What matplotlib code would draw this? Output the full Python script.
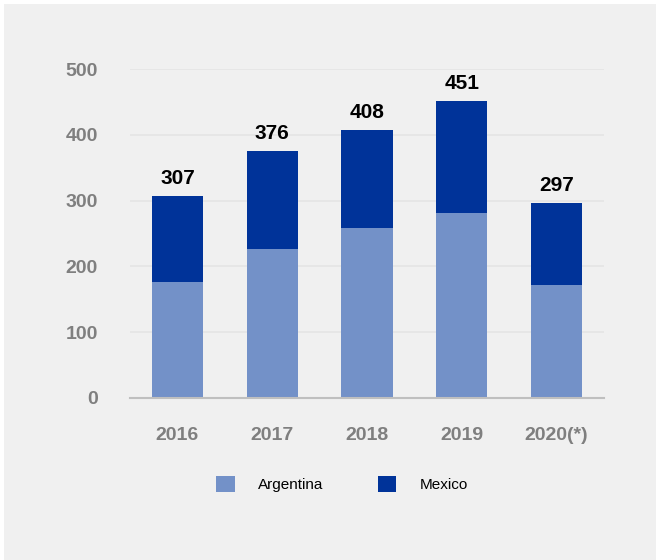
import matplotlib.pyplot as plt
from matplotlib.patches import Rectangle
from matplotlib import font_manager

# yearly figures, in thousands
years = ["2016", "2017", "2018", "2019", "2020(*)"]
argentina = [177, 226, 259, 281, 171]
mexico = [130, 150, 149, 170, 126]
totals = [307, 376, 408, 451, 297]

names = {f.name for f in font_manager.fontManager.ttflist}
font = "Liberation Sans Narrow" if "Liberation Sans Narrow" in names else "Liberation Sans"
plt.rcParams["font.family"] = [font, "DejaVu Sans"]

bg = "#f0f0f0"
light = "#7391c8"
dark = "#003399"

fig = plt.figure(figsize=(6.61, 5.60), dpi=100, facecolor="white")
fig.patches.append(Rectangle((4 / 661, 0), 652 / 661, 556 / 560,
                             transform=fig.transFigure, facecolor=bg,
                             edgecolor="none", zorder=-5))

ax = fig.add_axes([130 / 661, 1 - 398 / 560, 474 / 661, 329 / 560])
ax.set_facecolor(bg)

x = range(len(years))
ax.bar(x, argentina, width=0.54, color=light, label="Argentina", zorder=2)
ax.bar(x, mexico, width=0.54, bottom=argentina, color=dark, label="Mexico", zorder=2)

for i, t in enumerate(totals):
    ax.text(i, t + 12, str(t), ha="center", va="bottom",
            fontsize=15, fontweight="bold", color="black")

ax.set_xlim(-0.5, 4.5)
ax.set_ylim(0, 500)
ax.set_yticks([0, 100, 200, 300, 400, 500])
ax.set_xticks(list(x))
ax.set_xticklabels(years)
ax.yaxis.grid(True, color="#e4e4e4", linewidth=1.2, zorder=1)
ax.tick_params(length=0, labelsize=14, labelcolor="#7f7f7f")
ax.tick_params(axis="y", pad=23)
ax.tick_params(axis="x", pad=21)
for lab in ax.get_xticklabels() + ax.get_yticklabels():
    lab.set_fontweight("bold")
for s in ["top", "right", "left"]:
    ax.spines[s].set_visible(False)
ax.spines["bottom"].set_color("#bfbfbf")
ax.spines["bottom"].set_linewidth(1.5)

leg = fig.legend(loc="center", bbox_to_anchor=(342 / 661, 1 - 484 / 560), ncol=2,
                 frameon=False, fontsize=11, handlelength=1.2, handleheight=1.2,
                 handletextpad=1.5, columnspacing=3.6)

fig.savefig("out.png", dpi=100, facecolor="white")
